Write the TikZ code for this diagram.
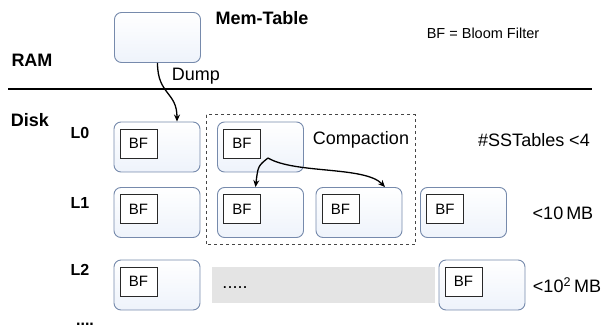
\documentclass[tikz,border=0pt]{standalone}
\usepackage{fontspec}
\setmainfont{Liberation Sans}
\usetikzlibrary{positioning}
\usetikzlibrary{arrows.meta}
\definecolor{tableedge}{RGB}{118,138,172}
\definecolor{tablefoot}{RGB}{238,243,251}
\definecolor{bfedge}{RGB}{40,40,40}
\definecolor{gapgray}{RGB}{228,228,228}
\definecolor{dashgray}{RGB}{70,70,70}

\begin{document}
\begin{tikzpicture}[x=1pt, y=-1pt,
  sstable/.style={draw=tableedge, line width=0.9pt, rounded corners=7pt, top color=white, bottom color=tablefoot, minimum width=86pt, minimum height=50pt, inner sep=0pt},
  bfbox/.style={draw=bfedge, line width=0.8pt, fill=white, minimum width=37pt, minimum height=29pt, inner sep=0pt, font=\fontsize{15}{17}\selectfont},
  plain/.style={font=\fontsize{18}{20}\selectfont},
  heavy/.style={font=\fontsize{18}{20}\selectfont\bfseries},
  level/.style={font=\fontsize{16}{18}\selectfont\bfseries},
  flow/.style={-{Stealth[length=7pt,width=6pt]}, line width=1.3pt}]
\useasboundingbox (0,0) rectangle (603,336);
\draw node[sstable] (memtab) at (157.5,37.5) {};
\draw node[sstable] (lz-a) at (157,147) {};
\draw node[sstable] (lz-b) at (260.5,147) {};
\draw node[sstable] (lo-a) at (157,212.5) {};
\draw node[sstable] (lo-b) at (260.5,212.5) {};
\draw node[sstable] (lo-c) at (359,212.5) {};
\draw node[sstable] (lo-d) at (463.5,212.5) {};
\draw node[sstable] (lt-a) at (157,285) {};
\draw node[sstable] (lt-b) at (482,285) {};
\foreach \n in {lz-a,lz-b,lo-a,lo-b,lo-c,lo-d,lt-a,lt-b}
  \node[bfbox, below right=7pt and 6pt of \n.north west] (bf-\n) {BF};
\draw[fill=gapgray, draw=none] (212,267) rectangle (435,303);
\node[plain] (gapdots) at (235,288) {.....};
\draw[dashed, line width=1pt, draw=dashgray] (206,115) rectangle (415,245);
\draw[line width=1.6pt] (8,89) -- (592,89);
\node[heavy] (memlbl) at (262,18) {Mem-Table};
\node[plain, font=\fontsize{14.5}{16}\selectfont] (bflegend) at (483,33) {BF = Bloom Filter};
\node[heavy] (ramlbl) at (32,60) {RAM};
\node[heavy] (disklbl) at (30,120) {Disk};
\node[plain] (dumplbl) at (196,76) {Dump};
\node[level] (lzlbl) at (80,133) {L0};
\node[level] (lolbl) at (80,203) {L1};
\node[level] (ltlbl) at (80,270) {L2};
\node[level] (moredots) at (85,324) {....};
\node[plain] (complbl) at (361,140) {Compaction};
\node[plain] (lzcap) at (534,140) {\#SSTables <4};
\node[plain] (locap) at (563,213) {<10\,MB};
\node[plain] (ltcap) at (567,285) {<10\textsuperscript{2}\,MB};
\coordinate (split) at (268,158);
\draw[flow] (memtab.south) .. controls +(0,32) and +(0,-30) .. ([xshift=20pt]lz-a.north);
\draw[flow] (split) .. controls (258,166) .. ([xshift=-5pt]lo-b.north);
\draw[flow] (split) .. controls (295,174) and (365,166) .. ([xshift=26pt]lo-c.north);
\end{tikzpicture}
\end{document}
